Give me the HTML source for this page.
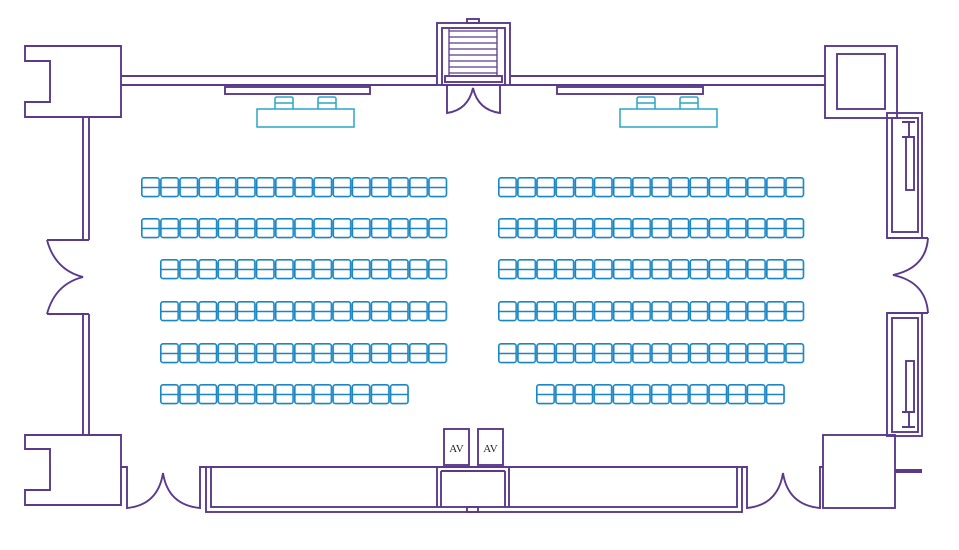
<!DOCTYPE html>
<html><head><meta charset="utf-8"><style>
html,body{margin:0;padding:0;background:#fff;}
svg{display:block;}
</style></head><body>
<svg width="959" height="550" viewBox="0 0 959 550" xmlns="http://www.w3.org/2000/svg">
<defs>
<pattern id="ch" patternUnits="userSpaceOnUse" x="0" y="0" width="19.15" height="22">
<rect x="0.8" y="0.8" width="17.4" height="18.8" rx="2.2" fill="none" stroke="#1a86c4" stroke-width="1.6"/>
<line x1="0.8" y1="10.5" x2="18.2" y2="10.5" stroke="#1a86c4" stroke-width="1.6"/>
</pattern>
</defs>
<rect width="959" height="550" fill="#fff"/>
<g fill="none" stroke="#5b3a8c" stroke-width="1.9">
<path d="M25 46 H121 V117 H25 V102 H50 V61 H25 Z"/>
<path d="M25 435 H121 V505 H25 V490 H50 V449 H25 Z"/>
<path d="M121 76 H437 M121 85 H437 M510 76 H825 M510 85 H825"/>
<rect x="437" y="23" width="73" height="62"/>
<rect x="442" y="28" width="63" height="57"/>
<rect x="467" y="19" width="12" height="4"/>
<g stroke-width="1.3">
<path d="M449 29 V76 M497 29 V76 M449 31 H497 M449 37 H497 M449 43 H497 M449 49 H497 M449 55 H497 M449 61 H497 M449 67 H497 M449 73 H497"/>
</g>
<rect x="445" y="76" width="57" height="6"/>
<path d="M447 85 V113 Q468 110 473 88 Q478 110 500 113 V85"/>
<path d="M83 117 V240 M89 117 V240 M83 314 V435 M89 314 V435"/>
<path d="M47 240 H89 M47 314 H89 M47 240 Q55 270 83 277 Q55 284 47 314"/>
<path d="M121 467 H127 V508 Q158 505 163 473 Q168 505 200 508 V467 H206"/>
<rect x="206" y="467" width="536" height="45"/>
<rect x="211" y="467" width="526" height="40"/>
<path d="M437 467 V507 M441 471 V507 M505 471 V507 M509 467 V507 M441 471 H505"/>
<rect x="467" y="507" width="11" height="5"/>
<rect x="444" y="429" width="25" height="36"/>
<rect x="478" y="429" width="25" height="36"/>
<path d="M742 467 H747 V508 Q778 505 783 473 Q788 505 820 508 V467 H823"/>
<rect x="823" y="435" width="72" height="73"/>
<line x1="895" y1="471" x2="922" y2="471" stroke-width="4"/>
<rect x="825" y="46" width="72" height="72"/>
<rect x="837" y="54" width="48" height="55"/>
<rect x="887" y="113" width="35" height="125"/>
<rect x="892" y="118" width="26" height="114"/>
<path d="M902 122 H915 M909 122 V137 M902 137 H915"/>
<rect x="906" y="137" width="8" height="53"/>
<path d="M887 238 H928 M887 313 H928 M928 238 Q926 268 893 275 Q926 282 928 313"/>
<rect x="887" y="313" width="35" height="123"/>
<rect x="892" y="318" width="26" height="114"/>
<rect x="906" y="361" width="8" height="51"/>
<path d="M902 412 H915 M909 412 V427 M902 427 H915"/>
<rect x="225" y="87" width="145" height="7"/>
<rect x="557" y="87" width="146" height="7"/>
</g>
<g fill="none" stroke="#2aa6c4" stroke-width="1.5">
<rect x="257" y="109" width="97" height="18"/>
<rect x="620" y="109" width="97" height="18"/>
<path d="M275 109 V99 Q275 97 277 97 H291 Q293 97 293 99 V109 M275 103 H293"/>
<path d="M318 109 V99 Q318 97 320 97 H334 Q336 97 336 99 V109 M318 103 H336"/>
<path d="M637 109 V99 Q637 97 639 97 H653 Q655 97 655 99 V109 M637 103 H655"/>
<path d="M680 109 V99 Q680 97 682 97 H696 Q698 97 698 99 V109 M680 103 H698"/>
</g>
<g fill="url(#ch)">
<g transform="translate(141,177)"><rect width="306.4" height="21"/></g>
<g transform="translate(141,218)"><rect width="306.4" height="21"/></g>
<g transform="translate(160,259)"><rect width="287.3" height="21"/></g>
<g transform="translate(160,301)"><rect width="287.3" height="21"/></g>
<g transform="translate(160,343)"><rect width="287.3" height="21"/></g>
<g transform="translate(160,384)"><rect width="249" height="21"/></g>
<g transform="translate(498,177)"><rect width="306.4" height="21"/></g>
<g transform="translate(498,218)"><rect width="306.4" height="21"/></g>
<g transform="translate(498,259)"><rect width="306.4" height="21"/></g>
<g transform="translate(498,301)"><rect width="306.4" height="21"/></g>
<g transform="translate(498,343)"><rect width="306.4" height="21"/></g>
<g transform="translate(536,384)"><rect width="249" height="21"/></g>
</g>
<g font-family="Liberation Serif, serif" font-size="11" fill="#222" text-anchor="middle">
<text x="456.5" y="452">AV</text>
<text x="490.5" y="452">AV</text>
</g>
</svg>
</body></html>
